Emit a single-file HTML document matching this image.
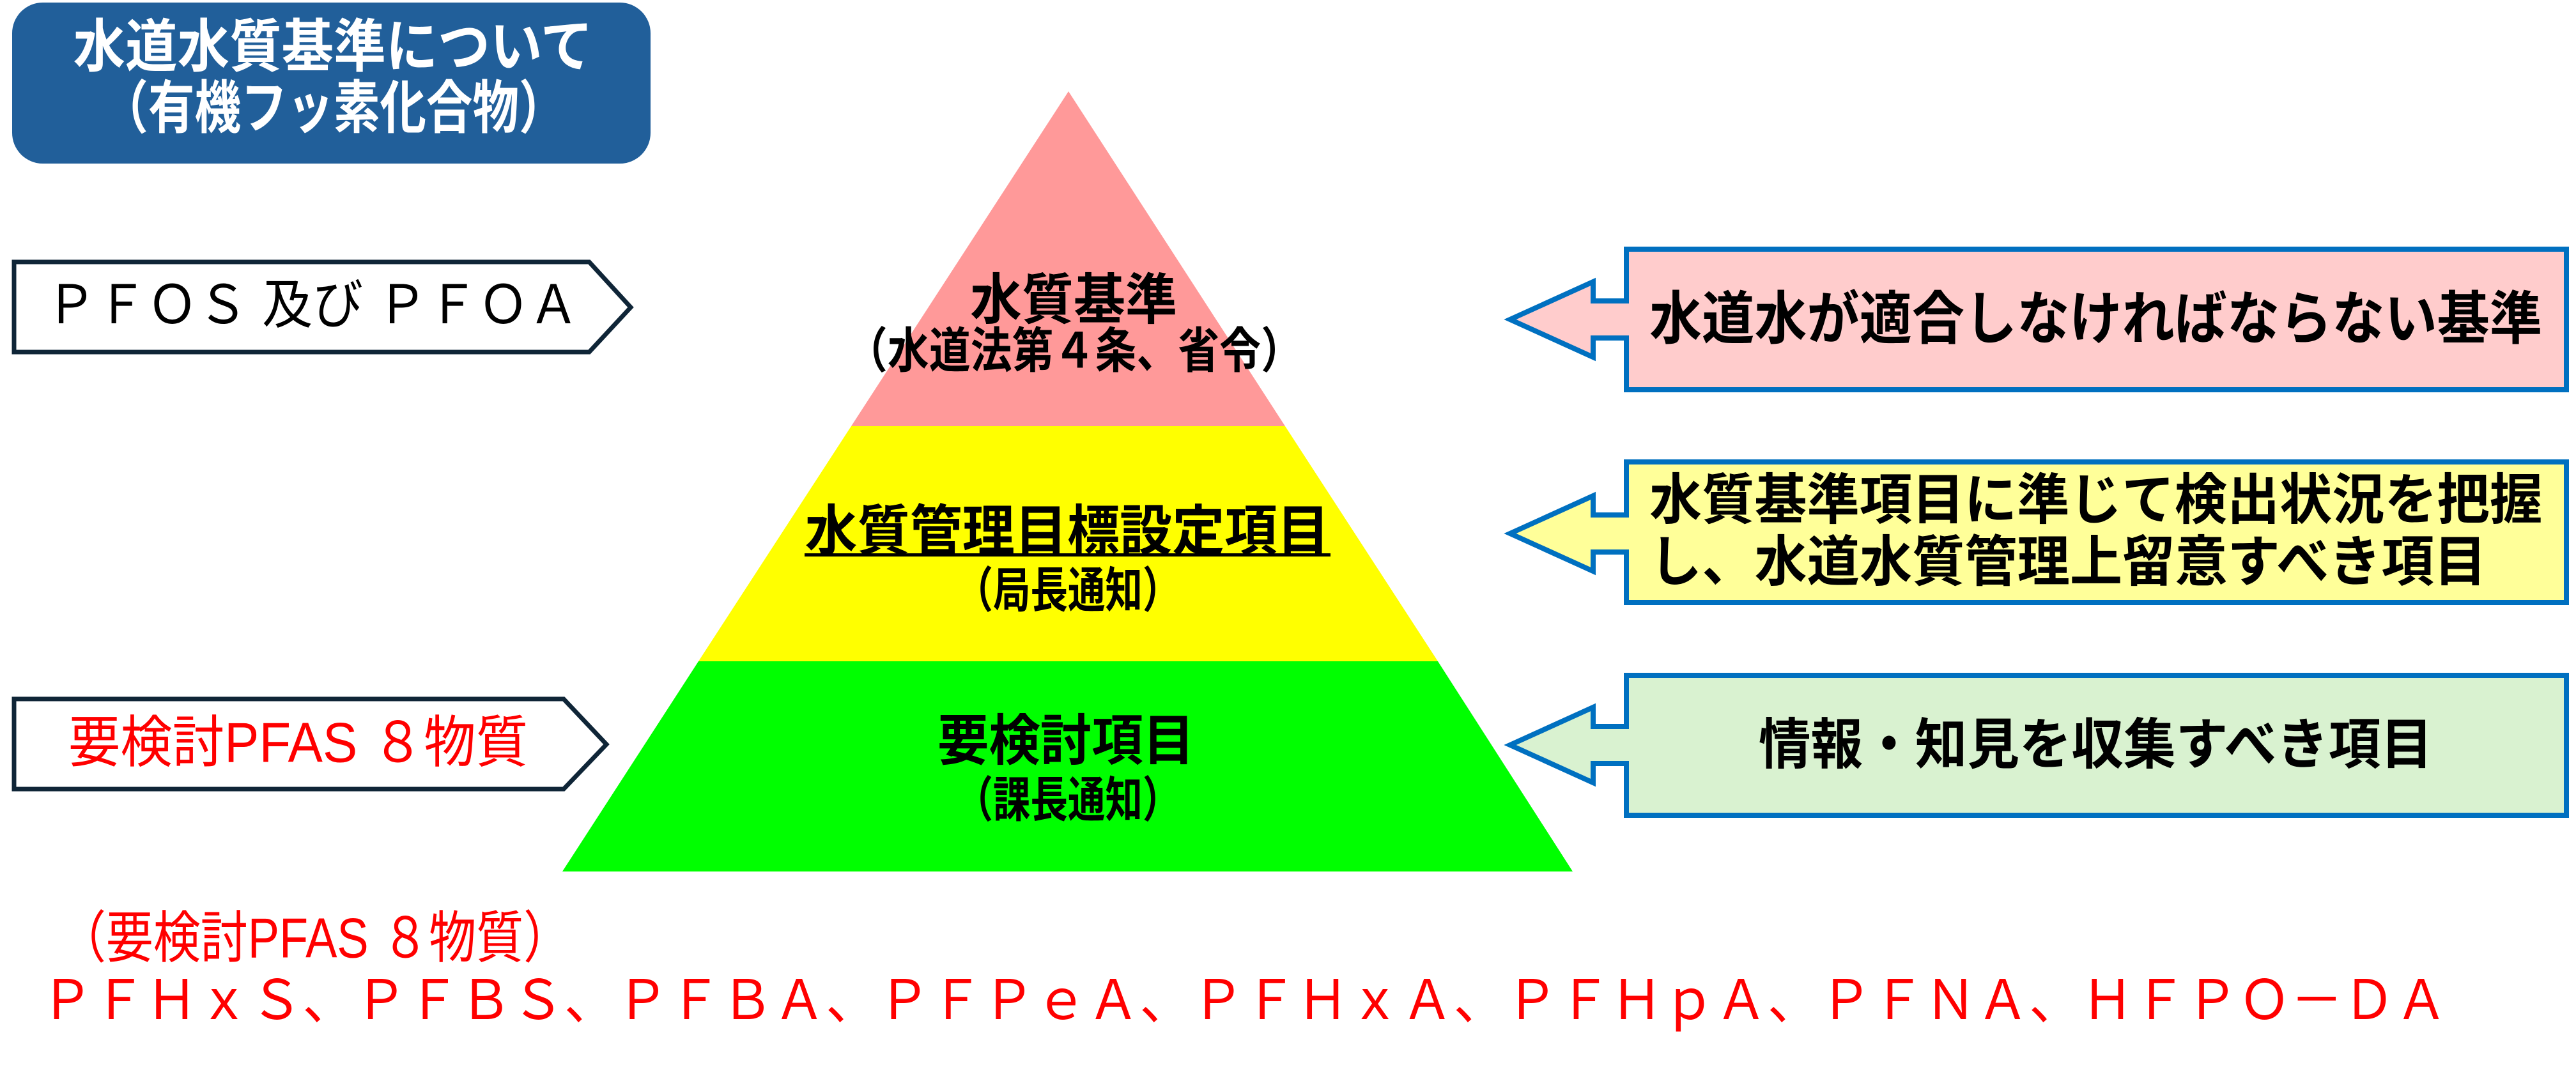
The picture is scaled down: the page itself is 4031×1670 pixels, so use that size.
<!DOCTYPE html>
<html><head><meta charset="utf-8"><style>
html,body{margin:0;padding:0;background:#fff;}
svg{display:block;}
text{font-family:"Liberation Sans","Noto Sans CJK JP",sans-serif;}
</style></head><body>
<svg width="4031" height="1670" viewBox="0 0 4031 1670" xmlns="http://www.w3.org/2000/svg">
<rect x="0" y="0" width="4031" height="1670" fill="#fff"/>
<!-- title -->
<rect x="19" y="4" width="999" height="252" rx="48" fill="#215F9A"/>
<text x="521" y="74" font-size="90" font-weight="bold" fill="#fff" text-anchor="middle" dominant-baseline="central" textLength="813" lengthAdjust="spacingAndGlyphs">水道水質基準について</text>
<text x="522" y="170" font-size="90" font-weight="bold" fill="#fff" text-anchor="middle" dominant-baseline="central" textLength="725" lengthAdjust="spacingAndGlyphs">（有機フッ素化合物）</text>

<!-- pyramid -->
<polygon points="1672,143 2011,667 1332,667" fill="#FF9999"/>
<polygon points="1332,667 2011,667 2250,1035 1093,1035" fill="#FFFF00"/>
<polygon points="1093,1035 2250,1035 2461,1364 880,1364" fill="#00FF00"/>

<text x="1680" y="470" font-size="86" font-weight="bold" fill="#000" text-anchor="middle" dominant-baseline="central" textLength="324" lengthAdjust="spacingAndGlyphs">水質基準</text>
<text x="1681" y="550" font-size="76" font-weight="bold" fill="#000" text-anchor="middle" dominant-baseline="central" textLength="714" lengthAdjust="spacingAndGlyphs">（水道法第４条、省令）</text>
<text x="1670" y="832" font-size="86" font-weight="bold" fill="#000" text-anchor="middle" dominant-baseline="central" textLength="821" lengthAdjust="spacingAndGlyphs">水質管理目標設定項目</text>
<rect x="1259" y="866" width="823" height="5" fill="#000"/>
<text x="1671" y="925" font-size="76" font-weight="bold" fill="#000" text-anchor="middle" dominant-baseline="central" textLength="351" lengthAdjust="spacingAndGlyphs">（局長通知）</text>
<text x="1668" y="1160" font-size="86" font-weight="bold" fill="#000" text-anchor="middle" dominant-baseline="central" textLength="402" lengthAdjust="spacingAndGlyphs">要検討項目</text>
<text x="1671" y="1253" font-size="76" font-weight="bold" fill="#000" text-anchor="middle" dominant-baseline="central" textLength="351" lengthAdjust="spacingAndGlyphs">（課長通知）</text>

<!-- left pentagons -->
<polygon points="22,410 922,410 987,481 922,551 22,551" fill="#fff" stroke="#0F2537" stroke-width="7"/>
<text x="72" y="477" font-size="84" fill="#000" dominant-baseline="central" textLength="834" lengthAdjust="spacingAndGlyphs">ＰＦＯＳ 及び ＰＦＯＡ</text>
<polygon points="22,1094 882,1094 949,1165 882,1235 22,1235" fill="#fff" stroke="#0F2537" stroke-width="7"/>
<text x="107" y="1162" font-size="88" fill="#FF0000" dominant-baseline="central" textLength="719" lengthAdjust="spacingAndGlyphs">要検討PFAS ８物質</text>

<!-- right callouts -->
<g stroke="#0070C0" stroke-width="8" stroke-linejoin="miter">
<polygon points="2545,390 4016,390 4016,610 2545,610 2545,529 2493,529 2493,559 2363,500 2493,441 2493,471 2545,471" fill="#FFCCCC"/>
<polygon points="2545,723 4016,723 4016,943 2545,943 2545,864 2493,864 2493,894 2363,835 2493,776 2493,806 2545,806" fill="#FFFF99"/>
<polygon points="2545,1057 4016,1057 4016,1276 2545,1276 2545,1195 2493,1195 2493,1225 2363,1166 2493,1107 2493,1137 2545,1137" fill="#D9F2D0"/>
</g>
<text x="2581" y="500" font-size="90" font-weight="bold" fill="#000" dominant-baseline="central" textLength="1397" lengthAdjust="spacingAndGlyphs">水道水が適合しなければならない基準</text>
<text x="2581" y="783" font-size="86" font-weight="bold" fill="#000" dominant-baseline="central" textLength="1397" lengthAdjust="spacingAndGlyphs">水質基準項目に準じて検出状況を把握</text>
<text x="2581" y="880" font-size="86" font-weight="bold" fill="#000" dominant-baseline="central" textLength="1310" lengthAdjust="spacingAndGlyphs">し、水道水質管理上留意すべき項目</text>
<text x="2752" y="1166" font-size="86" font-weight="bold" fill="#000" dominant-baseline="central" textLength="1055" lengthAdjust="spacingAndGlyphs">情報・知見を収集すべき項目</text>

<!-- bottom -->
<text x="92" y="1468" font-size="88" fill="#FF0000" dominant-baseline="central" textLength="801" lengthAdjust="spacingAndGlyphs">（要検討PFAS ８物質）</text>
<text x="64" y="1566" font-size="86" fill="#FF0000" dominant-baseline="central" textLength="3766" lengthAdjust="spacingAndGlyphs">ＰＦＨｘＳ、ＰＦＢＳ、ＰＦＢＡ、ＰＦＰｅＡ、ＰＦＨｘＡ、ＰＦＨｐＡ、ＰＦＮＡ、ＨＦＰＯ－ＤＡ</text>
</svg>
</body></html>
